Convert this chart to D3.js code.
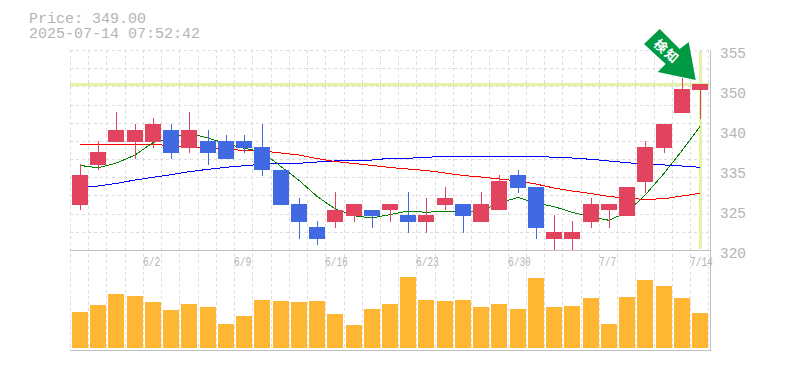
<!DOCTYPE html>
<html>
<head>
<meta charset="utf-8">
<script src="https://cdnjs.cloudflare.com/ajax/libs/d3/7.8.5/d3.min.js"></script>
<style>
html, body { margin: 0; padding: 0; background: #fff; }
svg { display: block; }
text { font-family: "Liberation Mono", monospace; fill: #b4b4b4; }
</style>
</head>
<body>
<svg id="chart" width="785" height="370"></svg>
<script>
var price = 349.00;
var timestamp = "2025-07-14 07:52:42";

// one entry per trading day
var opens  = [328,335,339,339,339,341,338,339,339,339,338,334,328,324,325,326,327,327,326,325,328,328,325,327,333,331,322,322,325,327,326,332,338,344,348];
var closes = [333,337,341,341,342,337,341,337,336,338,334,328,325,322,327,328,326,328,325,326,329,326,328,332,331,324,323,323,328,328,331,338,342,348,349];
var highs  = [335,339,344,342,343,342,344,341,340,340,342,334,329,325,330,328,327,328,330,329,331,328,330,333,334,331,326,325,329,328,331,339,342,350,349];
var lows   = [327,334,339,336,338,336,337,335,336,337,333,328,322,321,324,325,324,325,323,323,327,323,325,327,330,322,320,320,324,324,326,330,337,344,343];
var volumes = [36,43,54,52,46,38,44,41,24,32,48,47,46,47,34,23,39,44,71,48,47,48,41,44,39,70,41,42,50,24,51,68,62,50,35];

var ma5  = [334.8,334.4,335.2,336.6,338.8,339.6,340.4,339.6,338.6,337.8,337.2,334.6,332.2,329.4,327.2,326,325.6,326.2,326.8,326.6,326.8,326.8,326.8,328.2,329.2,328.2,327.6,326.6,325.8,325.2,326.6,329.6,333.4,337.4,341.6];
var ma25 = [338.5,338.5,338.5,338.5,338.46,338.29,338.03,337.85,337.68,337.41,337.33,336.98,336.63,336.01,335.49,335.14,334.79,334.44,334.18,333.91,333.48,333.04,332.78,332.43,332.08,331.55,330.85,330.33,329.89,329.36,329.1,328.84,328.98,329.45,329.92];
var ma75 = [330.94,331.2,331.64,332.25,332.72,333.18,333.7,334.12,334.47,334.75,335,335.17,335.17,335.4,335.58,335.75,335.75,336.05,336.05,336.22,336.4,336.4,336.4,336.4,336.4,336.4,336.22,336.1,335.87,335.58,335.28,335.05,334.88,334.7,334.47];

var dateIndex = [4,9,14,19,24,29,34];
var dateLabels = ["6/2","6/9","6/16","6/23","6/30","7/7","7/14"];
var priceTicks = [355,348,341,334,327,320];
var priceLabels = ["355","350","340","335","325","320"];

var RED = "#e2435f", BLUE = "#4169e1", GRID = "#dcdcdc", AXIS = "#c0c0c0", HILITE = "#e2f3a6";

var svg = d3.select("svg#chart");
var days = d3.range(closes.length);

var x = d3.scaleBand().domain(days.concat([35])).range([70, 726.46]);
var y = d3.scaleLinear().domain([320, 355]).range([250, 50]);
var v = d3.scaleLinear().domain([0, 100]).range([348, 248]);

function start(d) { return Math.round(x(d)); }
function left(d) { return start(d) + 2; }
function mid(d) { return start(d) + 10; }

// grid
svg.append("g").selectAll("line").data(d3.range(12)).join("line")
    .attr("x1", 70).attr("x2", 710)
    .attr("y1", function(i) { return Math.round(50 + i * 200 / 11) + 0.5; })
    .attr("y2", function(i) { return Math.round(50 + i * 200 / 11) + 0.5; })
    .attr("stroke", GRID).attr("stroke-dasharray", "3,3");

svg.append("g").selectAll("line").data(days.concat([35])).join("line")
    .attr("x1", function(d) { return start(d) + 0.5; })
    .attr("x2", function(d) { return start(d) + 0.5; })
    .attr("y1", 50).attr("y2", 350)
    .attr("stroke", GRID).attr("stroke-dasharray", "3,3");

// panel borders
svg.append("line").attr("x1", 70).attr("x2", 711).attr("y1", 250.5).attr("y2", 250.5).attr("stroke", AXIS);
svg.append("line").attr("x1", 70).attr("x2", 711).attr("y1", 350.5).attr("y2", 350.5).attr("stroke", AXIS);
svg.append("line").attr("x1", 710.5).attr("x2", 710.5).attr("y1", 50).attr("y2", 351).attr("stroke", AXIS);

// current price and latest day
svg.append("line").attr("x1", 70).attr("x2", 710).attr("y1", 84.5).attr("y2", 84.5)
    .attr("stroke", HILITE).attr("stroke-width", 3);
svg.append("line").attr("x1", mid(34) + 0.5).attr("x2", mid(34) + 0.5).attr("y1", 51).attr("y2", 249)
    .attr("stroke", HILITE).attr("stroke-width", 3);

// moving averages
var line = d3.line()
    .x(function(d, i) { return mid(i); })
    .y(function(d) { return y(d); });

[[ma75, "#0000ff"], [ma25, "#ff0000"], [ma5, "#008000"]].forEach(function(s) {
    svg.append("path").datum(s[0])
        .attr("fill", "none")
        .attr("stroke", s[1])
        .attr("shape-rendering", "crispEdges")
        .attr("d", line);
});

// candles
var candles = svg.append("g").attr("shape-rendering", "crispEdges");
function color(d) { return closes[d] >= opens[d] ? RED : BLUE; }
function bodyTop(d) { return Math.floor(y(Math.max(opens[d], closes[d]))); }
function bodyBottom(d) { return Math.ceil(y(Math.min(opens[d], closes[d]))); }

candles.selectAll("line").data(days).join("line")
    .attr("x1", function(d) { return mid(d) + 0.5; })
    .attr("x2", function(d) { return mid(d) + 0.5; })
    .attr("y1", function(d) { return Math.floor(y(highs[d])); })
    .attr("y2", function(d) { return Math.ceil(y(lows[d])); })
    .attr("stroke", color);

candles.selectAll("rect").data(days).join("rect")
    .attr("x", left)
    .attr("width", 16)
    .attr("y", bodyTop)
    .attr("height", function(d) { return bodyBottom(d) - bodyTop(d); })
    .attr("fill", color);

// volume
svg.append("g").attr("shape-rendering", "crispEdges")
    .selectAll("rect").data(days).join("rect")
    .attr("x", left)
    .attr("width", 16)
    .attr("y", function(d) { return v(volumes[d]); })
    .attr("height", function(d) { return v(0) - v(volumes[d]); })
    .attr("fill", "#ffb733");

// labels
svg.append("text").attr("x", 29).attr("y", 23).attr("font-size", 15).text("Price: " + price.toFixed(2));
svg.append("text").attr("x", 29).attr("y", 38).attr("font-size", 15).text(timestamp);

svg.append("g").selectAll("text").data(priceTicks).join("text")
    .attr("x", 720)
    .attr("y", function(d) { return y(d) + 8; })
    .attr("font-size", 15)
    .attr("textLength", 26)
    .attr("lengthAdjust", "spacingAndGlyphs")
    .text(function(d, i) { return priceLabels[i]; });

svg.append("g").selectAll("text").data(dateIndex).join("text")
    .attr("x", start)
    .attr("y", 266)
    .attr("font-size", 13)
    .attr("textLength", function(d, i) { return dateLabels[i].length * 5.7; })
    .attr("lengthAdjust", "spacingAndGlyphs")
    .text(function(d, i) { return dateLabels[i]; });

// signal arrow, its tip sits just above the last candle
var arrow = svg.append("g")
    .attr("transform", "translate(" + (left(34) + 3.7) + "," + (y(price) - 4.3) + ")");
arrow.append("path")
    .attr("d", "M0,0L-38,-8L-30,-16L-51.7,-36L-36,-51L-16,-31L-7,-38Z")
    .attr("fill", "#009944");
arrow.append("text")
    .attr("transform", "translate(-29,-28.5) rotate(42)")
    .attr("text-anchor", "middle")
    .attr("dy", "0.36em")
    .attr("font-size", 13)
    .attr("font-weight", "bold")
    .attr("letter-spacing", 1.5)
    .style("font-family", "'Noto Sans CJK JP'")
    .style("fill", "#fff")
    .text("検知");
</script>
</body>
</html>
